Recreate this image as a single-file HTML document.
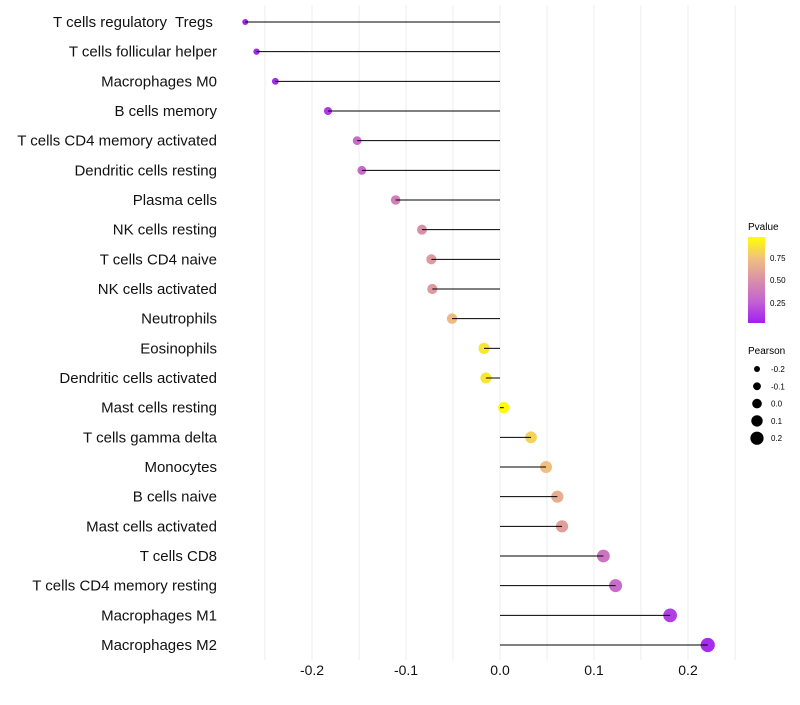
<!DOCTYPE html>
<html><head><meta charset="utf-8"><style>
body{margin:0;background:#fff;font-family:"Liberation Sans",sans-serif}
svg text{font-family:"Liberation Sans",sans-serif;white-space:pre}
</style></head><body>
<svg id="chart" width="800" height="700">
<defs><linearGradient id="pg" x1="0" y1="1" x2="0" y2="0">
<stop offset="0" stop-color="#a020f0"/><stop offset="0.25" stop-color="#c462d2"/><stop offset="0.5" stop-color="#d990a8"/><stop offset="0.75" stop-color="#f0c080"/><stop offset="1" stop-color="#ffff00"/></linearGradient></defs>
<g id="grid"></g><g id="dots"></g><g id="stems"></g><g id="labels"></g>
<g>
<text x="748" y="230" font-size="10">Pvalue</text>
<rect x="748" y="237" width="17" height="86" fill="url(#pg)"/>
<text x="770" y="261" font-size="8">0.75</text>
<text x="770" y="283" font-size="8">0.50</text>
<text x="770" y="306" font-size="8">0.25</text>
</g>
<g id="sizeleg">
<text x="748" y="354" font-size="10">Pearson</text>
</g>
</svg>
<script>
const categories=["T cells regulatory  Tregs ","T cells follicular helper","Macrophages M0","B cells memory","T cells CD4 memory activated","Dendritic cells resting","Plasma cells","NK cells resting","T cells CD4 naive","NK cells activated","Neutrophils","Eosinophils","Dendritic cells activated","Mast cells resting","T cells gamma delta","Monocytes","B cells naive","Mast cells activated","T cells CD8","T cells CD4 memory resting","Macrophages M1","Macrophages M2"];
const pearson=[-0.271,-0.259,-0.239,-0.183,-0.152,-0.147,-0.111,-0.083,-0.073,-0.072,-0.051,-0.017,-0.015,0.004,0.033,0.049,0.061,0.066,0.110,0.123,0.181,0.221];
const pvalue=[0.02,0.03,0.04,0.1,0.3,0.28,0.4,0.5,0.55,0.55,0.72,0.9,0.9,0.98,0.82,0.75,0.65,0.58,0.35,0.3,0.12,0.05];
const xTicks=[-0.2,-0.1,0.0,0.1,0.2];
const xTickLabels=["-0.2","-0.1","0.0","0.1","0.2"];
const sizeLegendValues=[-0.2,-0.1,0.0,0.1,0.2];
const NS="http://www.w3.org/2000/svg";
const xs=v=>500+v*940;
const ys=i=>22+i*(623/21);
const rs=v=>Math.max(1.8,Math.sqrt(Math.max(0,32+85*v)));
const stops=[[0,[160,32,240]],[0.25,[196,98,210]],[0.5,[217,144,168]],[0.75,[240,192,128]],[1,[255,255,0]]];
function col(p){for(let k=0;k<stops.length-1;k++){const[a,ca]=stops[k],[b,cb]=stops[k+1];if(p<=b){const t=(p-a)/(b-a);return `rgb(${ca.map((c,i)=>Math.round(c+(cb[i]-c)*t))})`;}}return 'rgb(255,255,0)';}
function mk(tag,attrs,parent){const e=document.createElementNS(NS,tag);for(const k in attrs)e.setAttribute(k,attrs[k]);parent.appendChild(e);return e;}
const grid=document.getElementById('grid'),dots=document.getElementById('dots'),stems=document.getElementById('stems'),labels=document.getElementById('labels');
for(let v=-0.25;v<=0.2501;v+=0.05){const g=mk('line',{x1:xs(v),x2:xs(v),y1:5,y2:660,stroke:'#ececec','stroke-width':1},grid);

}
xTicks.forEach((v,i)=>{const t=mk('text',{x:xs(v),y:675,'font-size':14,'text-anchor':'middle',fill:'#111'},labels);t.textContent=xTickLabels[i];

});
categories.forEach((c,i)=>{const y=ys(i);
const t=mk('text',{x:217,y:y+5,'font-size':15,'text-anchor':'end',fill:'#111'},labels);t.textContent=c;


const d=mk('circle',{cx:xs(pearson[i]),cy:y,r:rs(pearson[i]),fill:col(pvalue[i])},dots);


const l=mk('line',{x1:xs(0),x2:xs(pearson[i]),y1:y,y2:y,stroke:'#000','stroke-width':1},stems);

});
const sl=document.getElementById('sizeleg');
sizeLegendValues.forEach((v,i)=>{const y=369+i*17.3;
const c=mk('circle',{cx:757,cy:y,r:3+i*0.9,fill:'#000'},sl);


const t=mk('text',{x:771,y:y+3,'font-size':8},sl);t.textContent=v.toFixed(1);

});
</script>
</body></html>
